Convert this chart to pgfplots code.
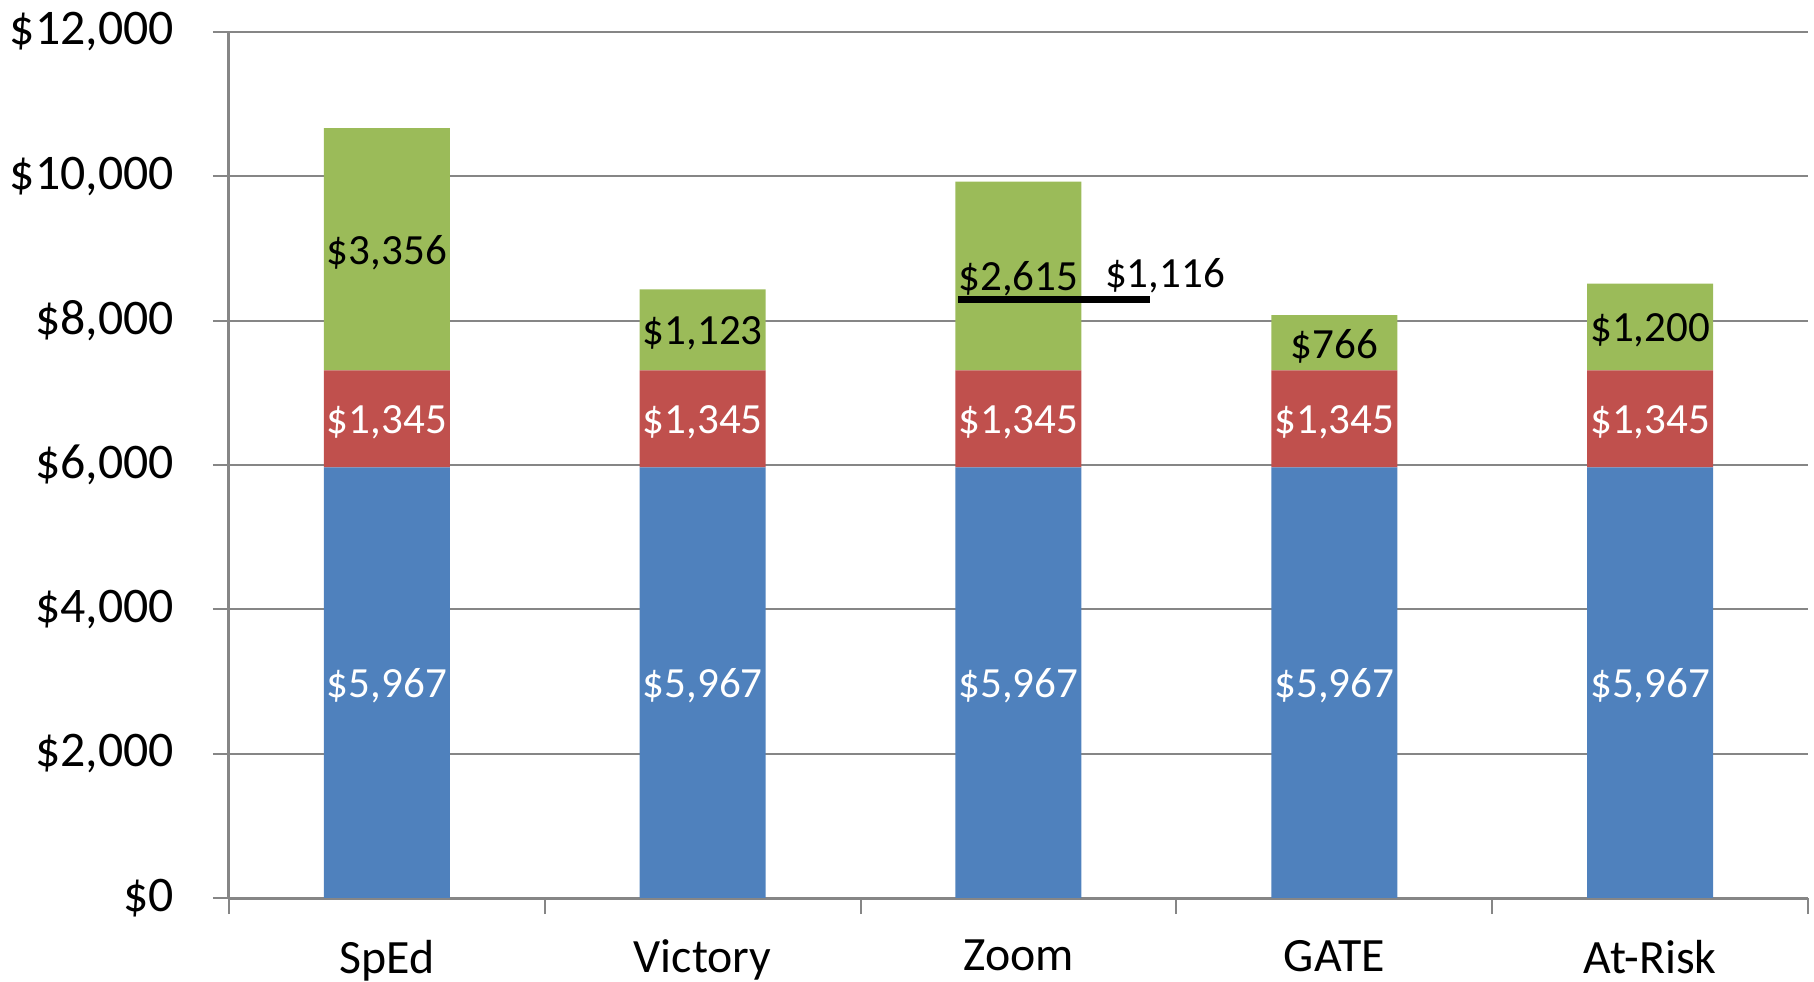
\documentclass[border=0pt]{standalone}
\usepackage{fontspec}
\setmainfont{Carlito}
\usepackage{pgfplots}
\pgfplotsset{compat=1.18}
\definecolor{cblue}{HTML}{4F81BD}
\definecolor{cred}{HTML}{C0504D}
\definecolor{cgreen}{HTML}{9BBB59}
\definecolor{axgray}{HTML}{868686}
\begin{document}
\begin{tikzpicture}
\begin{axis}[
  scale only axis, width=394.75bp, height=216.5bp,
  xmin=-0.5, xmax=4.5, ymin=0, ymax=12000,
  scaled y ticks=false,
  ybar stacked, bar width=31.5bp,
  axis lines*=left,
  axis line style={axgray, line width=0.75bp},
  ymajorgrids, grid style={axgray, line width=0.5bp},
  ytick={0,2000,4000,6000,8000,10000,12000},
  yticklabels={{\$0},{\$2,000},{\$4,000},{\$6,000},{\$8,000},{\$10,000},{\$12,000}},
  xtick={-0.5,0.5,1.5,2.5,3.5,4.5}, xticklabels={},
  extra x ticks={0,1,2,3,4},
  extra x tick labels={SpEd,Victory,Zoom,GATE,At-Risk},
  extra x tick style={major tick length=0pt},
  tick align=outside, major tick length=4bp,
  tick style={axgray, line width=0.5bp},
  y tick label style={font=\fontsize{12.5}{14}\selectfont, xshift=-6.3bp},
  x tick label style={font=\fontsize{12}{14}\selectfont, yshift=-7bp},
]
\addplot[fill=cblue, draw=none] coordinates {(0,5967) (1,5967) (2,5967) (3,5967) (4,5967)};
\addplot[fill=cred, draw=none] coordinates {(0,1345) (1,1345) (2,1345) (3,1345) (4,1345)};
\addplot[fill=cgreen, draw=none] coordinates {(0,3356) (1,1123) (2,2615) (3,766) (4,1200)};
\end{axis}
\begin{axis}[
  scale only axis, width=394.75bp, height=216.5bp,
  xmin=-0.5, xmax=4.5, ymin=0, ymax=12000,
  scaled y ticks=false,
  hide axis, clip=false,
]
\addplot[black, line width=1.8bp] coordinates {(1.81,8290) (2.416,8290)};
\addplot[draw=none, mark=none, nodes near coords, point meta=explicit symbolic,
  every node near coord/.append style={anchor=center, yshift=-0.8bp, text=white, font=\fontsize{10.8}{12}\selectfont}]
  coordinates {(0,2983.5)[\$5,967] (1,2983.5)[\$5,967] (2,2983.5)[\$5,967] (3,2983.5)[\$5,967] (4,2983.5)[\$5,967]
               (0,6639.5)[\$1,345] (1,6639.5)[\$1,345] (2,6639.5)[\$1,345] (3,6639.5)[\$1,345] (4,6639.5)[\$1,345]};
\addplot[draw=none, mark=none, nodes near coords, point meta=explicit symbolic,
  every node near coord/.append style={anchor=center, yshift=-0.8bp, text=black, font=\fontsize{10.8}{12}\selectfont}]
  coordinates {(0,8990)[\$3,356] (1,7873.5)[\$1,123] (2,8619.5)[\$2,615] (3,7695)[\$766] (4,7912)[\$1,200]
               (2.464,8662)[\$1,116]};
\end{axis}
\pgfresetboundingbox
\useasboundingbox (-57.25bp,-21bp) rectangle (396.25bp,224.5bp);
\end{tikzpicture}
\end{document}
